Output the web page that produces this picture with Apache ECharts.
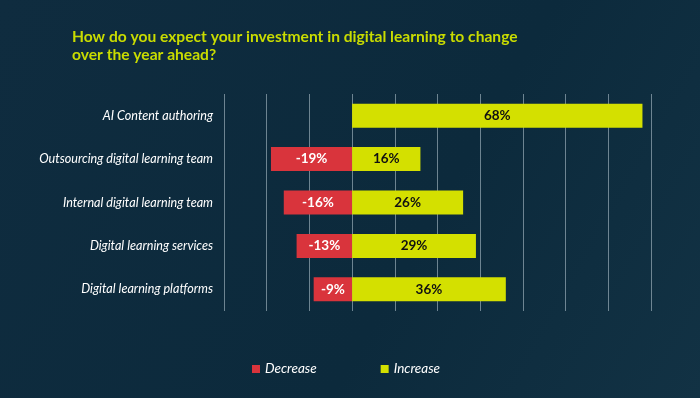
<!DOCTYPE html>
<html>
	<head>
		<meta charset="utf-8">
		<title>Digital learning investment</title>
		<style>
			html, body {
				margin: 0;
				padding: 0;
				background: #0e2b3d;
			}
			#main {
				width: 700px;
				height: 398px;
			}
		</style>
	</head>
	<body>
		<div id="main"></div>
		<script src="https://cdn.jsdelivr.net/npm/echarts@6/dist/echarts.min.js"></script>
		<script>
			// 数据
			var categories = ['AI Content authoring', 'Outsourcing digital learning team', 'Internal digital learning team', 'Digital learning services', 'Digital learning platforms'];
			var decreaseValues = [null, -19, -16, -13, -9];
			var increaseValues = [68, 16, 26, 29, 36];
			var seriesNames = ['Decrease', 'Increase'];

			var myChart = echarts.init(document.getElementById('main'));
			myChart.setOption({
				backgroundColor: new echarts.graphic.LinearGradient(0, 0, 1, 1, [
					{offset: 0, color: '#0f2c3f'},
					{offset: 0.6, color: '#0c2a3c'},
					{offset: 1, color: '#123244'}
				]),
				textStyle: {fontFamily: 'Lato'},
				title: {
					text: 'How do you expect your investment in digital learning to change\nover the year ahead?',
					left: 67,
					top: 23,
					textStyle: {
						color: '#c9dc00',
						fontSize: 15.6,
						fontWeight: 'bold',
						lineHeight: 18,
						fontFamily: 'Lato'
					}
				},
				legend: {
					bottom: 17,
					left: 247,
					itemWidth: 8,
					itemHeight: 8,
					itemGap: 64,
					icon: 'rect',
					data: seriesNames,
					textStyle: {
						color: '#ffffff',
						fontSize: 13.5,
						fontStyle: 'italic'
					}
				},
				grid: {
					left: 224,
					right: 49,
					top: 94,
					bottom: 87
				},
				xAxis: {
					type: 'value',
					min: -30,
					max: 70,
					interval: 10,
					axisLabel: {show: false},
					axisTick: {show: false},
					axisLine: {show: false},
					splitLine: {
						lineStyle: {color: 'rgba(190,205,215,0.55)', width: 1}
					}
				},
				yAxis: {
					type: 'category',
					inverse: true,
					data: categories,
					axisTick: {show: false},
					axisLine: {show: false},
					axisLabel: {
						color: '#ffffff',
						fontSize: 12.6,
						fontStyle: 'italic',
						margin: 11
					}
				},
				series: [
					{
						name: seriesNames[0],
						type: 'bar',
						stack: 'total',
						barWidth: 24,
						data: decreaseValues,
						itemStyle: {color: '#d9343c'},
						label: {
							show: true,
							position: 'inside',
							formatter: '{c}%',
							color: '#ffffff',
							fontSize: 13.5,
							fontWeight: 'bold'
						}
					},
					{
						name: seriesNames[1],
						type: 'bar',
						stack: 'total',
						barWidth: 24,
						data: increaseValues,
						itemStyle: {color: '#d4e000'},
						label: {
							show: true,
							position: 'inside',
							formatter: '{c}%',
							color: '#111111',
							fontSize: 13.5,
							fontWeight: 'bold'
						}
					}
				]
			});
		</script>
	</body>
</html>
